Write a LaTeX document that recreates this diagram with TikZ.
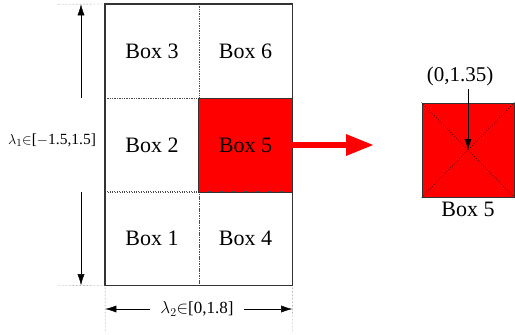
\documentclass[tikz,border=0pt]{standalone}
\usepackage{fontspec}
\setmainfont{Liberation Serif}
\usetikzlibrary{arrows.meta,positioning}

\tikzset{
  cell/.style={draw=black!70, dotted, thin, minimum width=93.5pt, minimum height=93.7pt,
    inner sep=0pt, font=\fontsize{22}{25}\selectfont},
  dimlabel/.style={inner sep=0pt, font=\fontsize{17}{19}\selectfont},
  dimarrow/.style={thin, -{Latex[length=11pt,width=7pt]}},
  extline/.style={densely dotted, thin, black!60}
}

\begin{document}
\begin{tikzpicture}[x=1pt,y=-1pt]
\useasboundingbox (0,0) rectangle (515,335);

%Draw the six boxes
\node[cell] (b3) at (152,51) {Box 3};
\node[cell] (b6) at (245.5,51) {Box 6};
\node[cell] (b2) at (152,145) {Box 2};
\node[cell, fill=red] (b5) at (245.5,145) {Box 5};
\node[cell] (b1) at (152,238.5) {Box 1};
\node[cell] (b4) at (245.5,238.5) {Box 4};
\draw[black!80, line width=1.2pt] (b3.north west) rectangle (b4.south east);
\draw[black!80, line width=0.8pt] (b5.north west) rectangle (b5.south east);

%Draw extension lines
\coordinate (topl) at (58,4.3);
\coordinate (botl) at (58,285.2);
\coordinate (lowl) at (105.3,333);
\coordinate (lowr) at (292.2,333);
\draw[extline] (topl) -- (b3.north west);
\draw[extline] (botl) -- (b1.south west);
\draw[extline] (b1.south west) -- (lowl);
\draw[extline] (b4.south east) -- (lowr);

%Draw lambda_1 range
\node[dimlabel, font=\fontsize{15.5}{18}\selectfont] (lam1) at (52,140) {$\lambda_1{\in}$[$-$1.5,1.5]};
\coordinate (vtop) at (81,4.3);
\coordinate (vbot) at (81,285.2);
\coordinate (vup) at (81,98);
\coordinate (vlow) at (81,192);
\draw[dimarrow] (vup) -- (vtop);
\draw[dimarrow] (vlow) -- (vbot);

%Draw lambda_2 range
\node[dimlabel] (lam2) at (197,309) {$\lambda_2{\in}$[0,1.8]};
\coordinate (hl) at (105.3,309);
\coordinate (hr) at (292.2,309);
\draw[dimarrow] ([xshift=-10pt]lam2.west) -- (hl);
\draw[dimarrow] ([xshift=10pt]lam2.east) -- (hr);

%Draw red arrow to enlarged box
\coordinate (tip) at (374,145);
\draw[red, line width=6pt, -{Triangle[length=28pt,width=20pt]}] (b5.east) -- (tip);

%Draw enlarged box 5
\node[draw=black!80, line width=0.8pt, fill=red, minimum width=92pt, minimum height=94pt] (big) at (468,150) {};
\draw[dotted, black, line width=0.6pt] (big.north west) -- (big.south east);
\draw[dotted, black, line width=0.6pt] (big.north east) -- (big.south west);
\node[font=\fontsize{21}{24}\selectfont] (pt) at (460,76) {(0,1.35)};
\draw[thin, -{Latex[length=11pt,width=7pt]}] (big.center |- pt.south) -- (big.center);
\node[font=\fontsize{22}{25}\selectfont, below=1pt of big] (bigl) {Box 5};
\end{tikzpicture}
\end{document}
